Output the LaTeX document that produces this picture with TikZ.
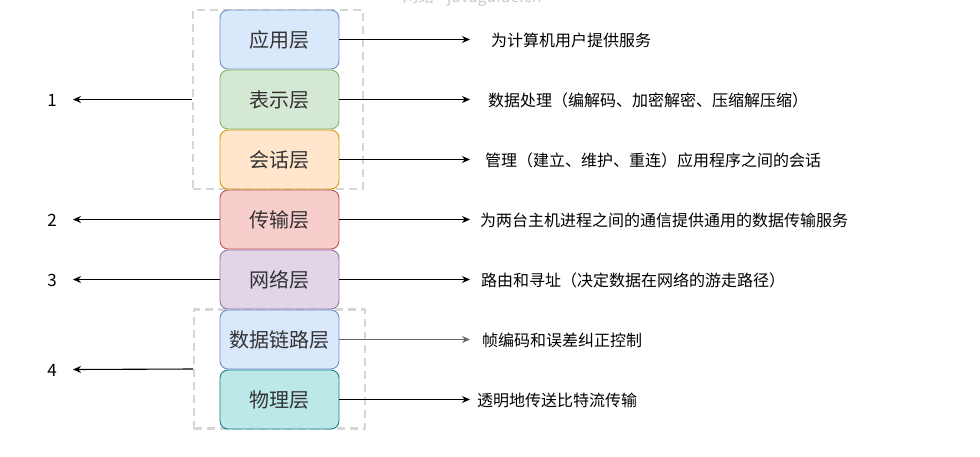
\documentclass[tikz,border=0pt]{standalone}
\usepackage{fontspec}
\setmainfont{Noto Sans CJK SC}
\usetikzlibrary{arrows.meta}
\definecolor{appF}{HTML}{DAE8FC}\definecolor{appD}{HTML}{6C8EBF}
\definecolor{preF}{HTML}{D5E8D4}\definecolor{preD}{HTML}{82B366}
\definecolor{sesF}{HTML}{FFE6CC}\definecolor{sesD}{HTML}{D79B00}
\definecolor{traF}{HTML}{F8CECC}\definecolor{traD}{HTML}{B85450}
\definecolor{netF}{HTML}{E1D5E7}\definecolor{netD}{HTML}{9673A6}
\definecolor{phyF}{HTML}{BDE8E8}\definecolor{phyD}{HTML}{0E8088}
\definecolor{grp}{HTML}{D6D6D6}
\definecolor{txt}{HTML}{333333}
\tikzset{
  layer/.style={rounded corners=8pt, minimum width=119pt, minimum height=59pt,
    line width=0.9pt, inner sep=0pt, text=txt, font=\fontsize{20}{20}\selectfont},
  group/.style={draw=grp, line width=2.5pt, dash pattern=on 8pt off 5pt, inner sep=0pt},
  arr/.style={line width=1.1pt, -{Stealth[length=8pt,width=7pt]}},
  desc/.style={anchor=west, inner sep=0pt, font=\fontsize{16}{16}\selectfont},
  num/.style={inner sep=0pt, font=\fontsize{17}{18}\selectfont}
}
\begin{document}
\begin{tikzpicture}[x=1pt,y=-1pt]
\useasboundingbox (0,0) rectangle (980,456);
\node[anchor=base, inner sep=0pt, text=gray!40, font=\fontsize{16}{16}\selectfont] (wm) at (472,2) {网络 - javaguide.cn};
% groups
\node[group, minimum width=170pt, minimum height=179pt] (g1) at (278,99.5) {};
\node[group, minimum width=171pt, minimum height=119pt] (g2) at (279.5,369) {};
% layers
\node[layer, fill=appF, draw=appD] (app) at (279.5,39.5) {应用层};
\node[layer, fill=preF, draw=preD] (pre) at (279.5,99.5) {表示层};
\node[layer, fill=sesF, draw=sesD] (ses) at (279.5,159.5) {会话层};
\node[layer, fill=traF, draw=traD] (tra) at (279.5,219.5) {传输层};
\node[layer, fill=netF, draw=netD] (net) at (279.5,279.5) {网络层};
\node[layer, fill=appF, draw=appD] (dat) at (279.5,339.5) {数据链路层};
\node[layer, fill=phyF, draw=phyD] (phy) at (279.5,399.5) {物理层};
% descriptions
\coordinate (r1) at (470,39.5);
\coordinate (r2) at (470,99.5);
\coordinate (r3) at (470,159.5);
\coordinate (r4) at (470,219.5);
\coordinate (r5) at (470,279.5);
\coordinate (r6) at (470,339.5);
\coordinate (r7) at (470,399.5);
\node[desc] (d1) at (491,40) {为计算机用户提供服务};
\node[desc] (d2) at (488,100) {数据处理（编解码、加密解密、压缩解压缩）};
\node[desc] (d3) at (485,160) {管理（建立、维护、重连）应用程序之间的会话};
\node[desc] (d4) at (480,220) {为两台主机进程之间的通信提供通用的数据传输服务};
\node[desc] (d5) at (481,280) {路由和寻址（决定数据在网络的游走路径）};
\node[desc] (d6) at (482,340) {帧编码和误差纠正控制};
\node[desc] (d7) at (477,400) {透明地传送比特流传输};
\draw[arr] (app.east) -- (r1);
\draw[arr] (pre.east) -- (r2);
\draw[arr] (ses.east) -- (r3);
\draw[arr] (tra.east) -- (r4);
\draw[arr] (net.east) -- (r5);
\draw[arr, draw=black!60] (dat.east) -- (r6);
\draw[arr] (phy.east) -- (r7);
% left numbers
\node[num] (n1) at (52,100) {1};
\node[num] (n2) at (52,220) {2};
\node[num] (n3) at (52,280) {3};
\node[num] (n4) at (52,370) {4};
\coordinate (l1) at (73,99.5);
\coordinate (l2) at (73,219.5);
\coordinate (l3) at (73,279.5);
\coordinate (l4) at (73,369.5);
\draw[arr] (g1.west) -- (l1);
\draw[arr] (tra.west) -- (l2);
\draw[arr] (net.west) -- (l3);
\draw[arr] (g2.west) -- (l4);
\end{tikzpicture}
\end{document}
